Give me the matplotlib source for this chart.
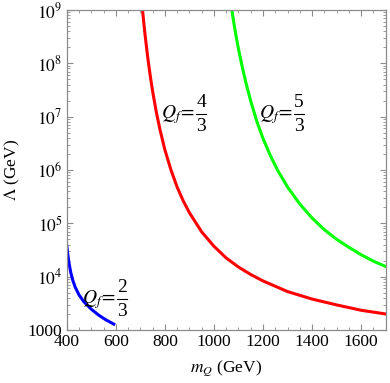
import matplotlib
matplotlib.use("Agg")
import matplotlib.pyplot as plt
from matplotlib.lines import Line2D
from matplotlib.transforms import IdentityTransform
from matplotlib.ticker import MultipleLocator, LogLocator, NullFormatter

plt.rcParams['font.family'] = ['Liberation Serif', 'DejaVu Serif']
plt.rcParams['mathtext.fontset'] = 'stix'

# data (m_Q in GeV, log10 of Lambda in GeV)
red_m = [709, 715, 720, 730, 740, 750, 765, 780, 800, 825, 850, 875, 900, 950,
         1000, 1050, 1100, 1150, 1200, 1300, 1400, 1500, 1600, 1700]
red_log = [9.0, 8.72, 8.51, 8.12, 7.78, 7.48, 7.09, 6.76, 6.38, 6.00, 5.68, 5.42, 5.20, 4.84,
           4.57, 4.35, 4.18, 4.04, 3.92, 3.72, 3.58, 3.47, 3.37, 3.30]

green_m = [1073, 1080, 1090, 1100, 1115, 1130, 1150, 1175, 1200, 1230, 1260, 1300,
           1350, 1400, 1450, 1500, 1550, 1600, 1650, 1700]
green_log = [9.0, 8.79, 8.52, 8.27, 7.94, 7.64, 7.29, 6.91, 6.59, 6.27, 5.99, 5.68,
             5.36, 5.10, 4.88, 4.70, 4.55, 4.41, 4.29, 4.19]

blue_m = [400, 405, 410, 417, 425, 435, 450, 470, 500, 530, 560, 592]
blue_log = [4.59, 4.40, 4.24, 4.07, 3.93, 3.80, 3.66, 3.53, 3.39, 3.28, 3.19, 3.11]

label_nums = ['4', '5', '2']
label_dens = ['3', '3', '3']
label_m = [786, 1183, 462]
label_lam = [1.1e7, 1.1e7, 3.8e3]

ytick_vals = [1e3, 1e4, 1e5, 1e6, 1e7, 1e8, 1e9]
ytick_labels = ['1000', r'$10^4$', r'$10^5$', r'$10^6$', r'$10^7$', r'$10^8$', r'$10^9$']
xtick_vals = [400, 600, 800, 1000, 1200, 1400, 1600]

fig = plt.figure(figsize=(3.9, 3.83), dpi=100)
ax = fig.add_axes([0.171, 0.1384, 0.818, 0.8356])

ax.plot(red_m, [10**v for v in red_log], color='#ff0000', lw=2.2, solid_joinstyle='round')
ax.plot(green_m, [10**v for v in green_log], color='#00ff00', lw=2.2, solid_joinstyle='round')
ax.plot(blue_m, [10**v for v in blue_log], color='#0000ff', lw=2.2, solid_joinstyle='round')

ax.set_yscale('log')
ax.set_xlim(400, 1700)
ax.set_ylim(1e3, 1e9)
ax.set_yticks(ytick_vals)
ax.set_yticklabels(ytick_labels)
ax.yaxis.set_minor_locator(LogLocator(base=10, subs=range(2, 10), numticks=20))
ax.yaxis.set_minor_formatter(NullFormatter())
ax.set_xticks(xtick_vals)
ax.set_xticklabels([str(v) for v in xtick_vals])
ax.xaxis.set_minor_locator(MultipleLocator(50))

gray = '#8c8c8c'
for s in ax.spines.values():
    s.set_color(gray)
    s.set_linewidth(0.9)
ax.tick_params(which='both', direction='in', top=True, right=True, color=gray, labelsize=12.5)
ax.tick_params(which='major', length=4.5, width=0.8, pad=3)
ax.tick_params(which='minor', length=2.3, width=0.6)

ax.set_xlabel(r'$m_Q$ (GeV)', fontsize=12.5, labelpad=6)
ax.set_ylabel(r'$\Lambda$ (GeV)', fontsize=12.5, labelpad=4)

fs = 14
for num, den, xm, yl in zip(label_nums, label_dens, label_m, label_lam):
    ax.annotate(r'$Q_f\!=$', xy=(xm, yl), xycoords='data', xytext=(0, 0),
                textcoords='offset pixels', fontsize=fs, ha='left', va='center')
    ax.annotate(num, xy=(xm, yl), xycoords='data', xytext=(40, 12),
                textcoords='offset pixels', fontsize=fs, ha='center', va='center')
    ax.annotate(den, xy=(xm, yl), xycoords='data', xytext=(40, -12),
                textcoords='offset pixels', fontsize=fs, ha='center', va='center')
    px, py = ax.transData.transform((xm, yl))
    fig.add_artist(Line2D([px + 35, px + 45], [py + 0.5, py + 0.5], transform=IdentityTransform(),
                          color='black', lw=0.8))

fig.savefig('out.png', dpi=100)
